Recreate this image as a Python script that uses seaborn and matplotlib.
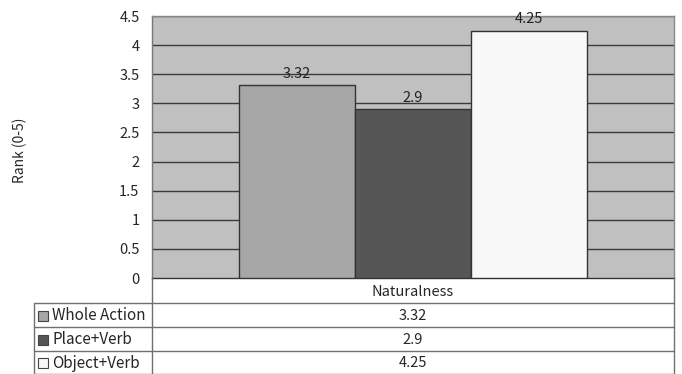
import matplotlib
matplotlib.use("Agg")
import matplotlib.pyplot as plt
from matplotlib.patches import Rectangle
import pandas as pd
import seaborn as sns

# Data
category = "Naturalness"
series = ["Whole Action", "Place+Verb", "Object+Verb"]
values = [3.32, 2.9, 4.25]
value_labels = ["3.32", "2.9", "4.25"]
colors = ["#a6a6a6", "#565656", "#f8f8f8"]
yticks = [0, 0.5, 1, 1.5, 2, 2.5, 3, 3.5, 4, 4.5]
ytick_labels = ["0", "0.5", "1", "1.5", "2", "2.5", "3", "3.5", "4", "4.5"]

df = pd.DataFrame({"category": [category] * len(series), "series": series, "value": values})

sns.set_theme(style="white")
plt.rcParams["font.family"] = ["Noto Sans CJK JP", "DejaVu Sans"]

W, H = 682, 374
fig = plt.figure(figsize=(W / 100, H / 100), dpi=100)

# plot area in pixels
left, right, top, bottom = 152, 674, 16, 278
ax = fig.add_axes([left / W, 1 - bottom / H, (right - left) / W, (bottom - top) / H])
ax.set_facecolor("#c0c0c0")

sns.barplot(data=df, x="category", y="value", hue="series", hue_order=series,
            palette=colors, width=0.667, edgecolor="#333333", linewidth=1,
            legend=False, ax=ax, zorder=3)

for cont, lab in zip(ax.containers, value_labels):
    ax.bar_label(cont, labels=[lab], padding=3, fontsize=10.5, color="#222222")

ax.set_ylim(0, 4.5)
ax.set_xlim(-0.5, 0.5)
ax.set_yticks(yticks)
ax.set_yticklabels(ytick_labels, fontsize=10.5)
ax.tick_params(axis="y", length=0, pad=9)
ax.set_xticks([])
ax.set_xlabel("")
ax.set_ylabel("")
for y in yticks[1:]:
    ax.axhline(y, color="#3a3a3a", linewidth=1, zorder=1)
for s in ["top", "right"]:
    ax.spines[s].set_color("#888888")
ax.spines["left"].set_color("#777777")
ax.spines["bottom"].set_color("#333333")
for s in ax.spines.values():
    s.set_linewidth(1)

fig.text(20 / W, 1 - 150 / H, "Rank (0-5)", rotation=90, ha="center", va="center", fontsize=10)

# data table beneath the plot, drawn in pixel coordinates
tab = fig.add_axes([0, 0, 1, 1], facecolor="none")
tab.set_xlim(0, W)
tab.set_ylim(H, 0)
tab.axis("off")

rows = [278, 303, 327, 351, 373.5]
lc = "#707070"
tab.plot([left, left], [rows[0], rows[-1]], color=lc, lw=1)
tab.plot([right, right], [rows[0], rows[-1]], color=lc, lw=1)
tab.plot([34, 34], [rows[1], rows[-1]], color=lc, lw=1)
for y in rows[1:]:
    tab.plot([34, right], [y, y], color=lc, lw=1)

mid = (left + right) / 2
tab.text(mid, (rows[0] + rows[1]) / 2 + 1, category, ha="center", va="center", fontsize=10.5)
for i, (name, lab, col) in enumerate(zip(series, value_labels, colors)):
    yc = (rows[i + 1] + rows[i + 2]) / 2 + 1
    tab.add_patch(Rectangle((38, yc - 5), 10, 10, facecolor=col, edgecolor="#444444", lw=0.8))
    tab.text(52, yc, name, ha="left", va="center", fontsize=11)
    tab.text(mid, yc, lab, ha="center", va="center", fontsize=10.5)

fig.savefig("out.png", dpi=100)
